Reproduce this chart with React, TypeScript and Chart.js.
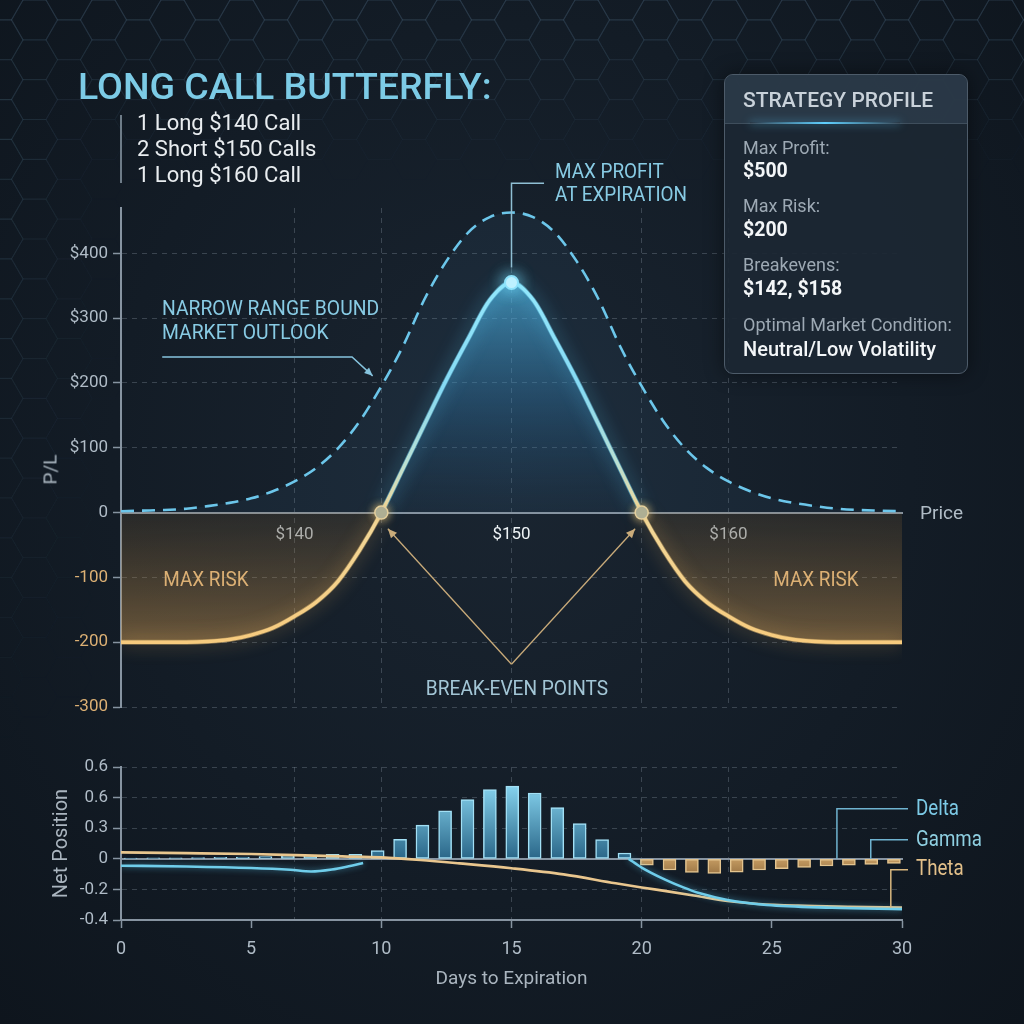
import React, { useEffect, useRef } from 'react';
import { Chart, registerables } from 'chart.js';

Chart.register(...registerables);

const FONT = 'Roboto, "Noto Sans", "DejaVu Sans", sans-serif';
const GRID = 'rgba(150,163,176,0.30)';
const AXIS = '#8794a1';
const TICK = '#b0bcc7';
const WARM = '#dcb074';
const COOL_TEXT = '#88cbe4';

// Underlying price ($) and the two P/L curves of the position
const prices = [132, 133, 134, 135, 136, 137, 138, 139, 140, 141, 142, 143, 144, 145, 146, 147, 148, 149, 150, 151, 152, 153, 154, 155, 156, 157, 158, 159, 160, 161, 162, 163, 164, 165, 166, 167, 168];
const expiryPL = [-200, -200, -200, -200, -199, -196, -189, -178, -160, -138, -106, -58, 0, 68, 137, 205, 268, 328, 355, 328, 268, 205, 137, 68, 0, -58, -106, -138, -160, -178, -189, -196, -199, -200, -200, -200, -200];
const todayPL = [2, 3, 4, 6, 10, 15, 22, 33, 48, 69, 99, 141, 195, 257, 330, 388, 432, 456, 463, 456, 432, 388, 330, 257, 195, 141, 99, 69, 48, 33, 22, 15, 10, 6, 4, 3, 2];
const breakevenPrices = [144, 156];
const peakPrice = 150;
const priceGridLines = [140, 144, 150, 156, 160];
const priceTickLabels = [140, 150, 160];
const plTicks = [-300, -200, -100, 0, 100, 200, 300, 400];
const plMin = -300;
const plMax = 470;

const legs = ['1 Long $140 Call', '2 Short $150 Calls', '1 Long $160 Call'];
const profileRows: [string, string][] = [
  ['Max Profit:', '$500'],
  ['Max Risk:', '$200'],
  ['Breakevens:', '$142, $158'],
  ['Optimal Market Condition:', 'Neutral/Low Volatility'],
];

// Greeks across days to expiration
const barDays = [0.37, 1.24, 2.1, 2.96, 3.82, 4.68, 5.55, 6.41, 7.27, 8.13, 9.0, 9.86, 10.72, 11.58, 12.45, 13.31, 14.17, 15.03, 15.89, 16.76, 17.62, 18.48, 19.34, 20.2, 21.07, 21.93, 22.79, 23.65, 24.51, 25.38, 26.24, 27.1, 27.96, 28.82, 29.69];
const gammaBars = [0.005, 0.006, 0.007, 0.008, 0.01, 0.012, 0.015, 0.022, 0.025, 0.03, 0.03, 0.053, 0.127, 0.22, 0.313, 0.387, 0.453, 0.475, 0.43, 0.335, 0.231, 0.125, 0.038, -0.042, -0.073, -0.089, -0.096, -0.087, -0.073, -0.065, -0.056, -0.047, -0.042, -0.036, -0.031];
const deltaDays = [0, 2.5, 5, 6.5, 7.3, 8.1, 8.8, 9.3, 14, 19.5, 20, 20.9, 21.6, 22.2, 23.3, 24.8, 27.3, 30];
const deltaValues = [-0.045, -0.05, -0.06, -0.072, -0.083, -0.07, -0.047, -0.028, null, 0, -0.057, -0.136, -0.187, -0.224, -0.269, -0.302, -0.32, -0.329];
const thetaDays = [0, 2.5, 5, 6.7, 8.5, 10, 11.5, 13, 15, 17, 19, 20, 21, 22, 23.3, 24.5, 26, 28, 30];
const thetaValues = [0.042, 0.037, 0.031, 0.024, 0.016, 0.009, -0.008, -0.03, -0.062, -0.102, -0.16, -0.187, -0.213, -0.24, -0.276, -0.295, -0.306, -0.313, -0.318];
const dayTicks = [0, 5, 10, 15, 20, 25, 30];
const netTicks = [-0.4, -0.2, 0, 0.2, 0.4, 0.6];
const netTickLabels = ['-0.4', '-0.2', '0', '0.3', '0.6', '0.6'];
const greekNames = ['Delta', 'Gamma', 'Theta'];

// Soft halo behind datasets that carry a `glow: [color, blur]` entry
const glowPlugin = {
  id: 'glow',
  beforeDatasetDraw(chart: any, args: any) {
    const ds = chart.data.datasets[args.index];
    if (!ds.glow) return;
    chart.ctx.save();
    chart.ctx.shadowColor = ds.glow[0];
    chart.ctx.shadowBlur = ds.glow[1];
  },
  afterDatasetDraw(chart: any, args: any) {
    const ds = chart.data.datasets[args.index];
    if (!ds.glow) return;
    chart.ctx.restore();
  },
};

function arrowHead(ctx: CanvasRenderingContext2D, x0: number, y0: number, x1: number, y1: number, size: number) {
  const a = Math.atan2(y1 - y0, x1 - x0);
  ctx.beginPath();
  ctx.moveTo(x1, y1);
  ctx.lineTo(x1 - size * Math.cos(a - 0.42), y1 - size * Math.sin(a - 0.42));
  ctx.lineTo(x1 - size * Math.cos(a + 0.42), y1 - size * Math.sin(a + 0.42));
  ctx.closePath();
  ctx.fill();
}

// Callout leaders on the payoff diagram
const payoffNotes = {
  id: 'payoffNotes',
  afterDatasetsDraw(chart: any) {
    const { ctx, scales } = chart;
    const X = (v: number) => scales.x.getPixelForValue(v);
    const Y = (v: number) => scales.y.getPixelForValue(v);
    ctx.save();
    ctx.lineWidth = 1.5;
    // max profit leader
    ctx.strokeStyle = '#8fbfd4';
    ctx.beginPath();
    ctx.moveTo(X(peakPrice), Y(378));
    ctx.lineTo(X(peakPrice), Y(508));
    ctx.lineTo(X(peakPrice + 1.5), Y(508));
    ctx.stroke();
    // range-bound outlook leader
    ctx.strokeStyle = '#86c4de';
    ctx.fillStyle = '#86c4de';
    const o = [[133.9, 240], [142.65, 240], [143.6, 211]];
    ctx.beginPath();
    ctx.moveTo(X(o[0][0]), Y(o[0][1]));
    ctx.lineTo(X(o[1][0]), Y(o[1][1]));
    ctx.lineTo(X(o[2][0]), Y(o[2][1]));
    ctx.stroke();
    arrowHead(ctx, X(o[1][0]), Y(o[1][1]), X(o[2][0]), Y(o[2][1]), 9);
    // break-even arrows
    ctx.strokeStyle = '#c9ab7a';
    ctx.fillStyle = '#c9ab7a';
    ctx.lineWidth = 1.3;
    const apex = [peakPrice, -234];
    [[breakevenPrices[0] + 0.3, -25], [breakevenPrices[1] - 0.3, -25]].forEach(([px, pv]) => {
      ctx.beginPath();
      ctx.moveTo(X(apex[0]), Y(apex[1]));
      ctx.lineTo(X(px), Y(pv));
      ctx.stroke();
      arrowHead(ctx, X(apex[0]), Y(apex[1]), X(px), Y(pv), 10);
    });
    ctx.restore();
  },
};

// Leader lines for the greek labels
const greekNotes = {
  id: 'greekNotes',
  afterDatasetsDraw(chart: any) {
    const { ctx, chartArea, scales } = chart;
    const X = (v: number) => scales.x.getPixelForValue(v);
    const Y = (v: number) => scales.y.getPixelForValue(v);
    const end = chartArea.right + 6;
    const leaders: [number, number, number, string][] = [
      [27.5, 0, 0.327, '#6fb3d0'],
      [28.8, 0, 0.124, '#6fb3d0'],
      [29.57, -0.318, -0.072, '#d9b77f'],
    ];
    ctx.save();
    ctx.lineWidth = 1.5;
    leaders.forEach(([d, from, to, col]) => {
      ctx.strokeStyle = col;
      ctx.beginPath();
      ctx.moveTo(X(d), Y(from));
      ctx.lineTo(X(d), Y(to));
      ctx.lineTo(end, Y(to));
      ctx.stroke();
    });
    ctx.restore();
  },
};

function PayoffChart() {
  const ref = useRef<HTMLCanvasElement>(null);
  useEffect(() => {
    const pts = (ys: number[]) => prices.map((p, i) => ({ x: p, y: ys[i] }));
    const valueAt = (p: number) => expiryPL[prices.indexOf(p)];
    const vGrad = (c: any, top: number, bottom: number, stops: [number, string][]) => {
      const { chart } = c;
      if (!chart.chartArea) return stops[0][1];
      const y = chart.scales.y;
      const g = chart.ctx.createLinearGradient(0, y.getPixelForValue(top), 0, y.getPixelForValue(bottom));
      stops.forEach(([t, col]) => g.addColorStop(t, col));
      return g;
    };
    const clear = 'rgba(0,0,0,0)';
    const chart = new Chart(ref.current!, {
      type: 'line',
      data: {
        datasets: [
          {
            label: 'Today',
            data: pts(todayPL),
            borderColor: '#6cc6ea',
            borderWidth: 2.6,
            borderDash: [13, 8],
            pointRadius: 0,
            cubicInterpolationMode: 'monotone',
            fill: { target: 'origin', above: 'rgba(80,140,185,0.08)', below: clear },
            order: 9,
          },
          {
            label: 'Profit zone',
            data: pts(expiryPL.map((v) => Math.max(v, 0))),
            borderWidth: 0,
            pointRadius: 0,
            cubicInterpolationMode: 'monotone',
            fill: 'origin',
            backgroundColor: (c: any) => vGrad(c, 355, 0, [[0, 'rgba(85,195,245,0.62)'], [0.55, 'rgba(50,130,185,0.30)'], [1, 'rgba(30,80,120,0.04)']]),
            order: 8,
          },
          {
            label: 'Risk zone',
            data: pts(expiryPL.map((v) => Math.min(v, 0))),
            borderWidth: 0,
            pointRadius: 0,
            cubicInterpolationMode: 'monotone',
            fill: 'origin',
            backgroundColor: (c: any) => vGrad(c, 0, -210, [[0, 'rgba(150,110,55,0.16)'], [1, 'rgba(222,165,88,0.45)']]),
            order: 8,
          },
          {
            label: 'Cool halo',
            data: pts(expiryPL),
            borderWidth: 5,
            borderColor: clear,
            pointRadius: 0,
            cubicInterpolationMode: 'monotone',
            segment: { borderColor: (s: any) => (s.p0.parsed.y >= 40 || s.p1.parsed.y >= 40 ? 'rgba(120,220,250,0.5)' : clear) },
            glow: ['rgba(90,200,245,0.95)', 18],
            order: 7,
          } as any,
          {
            label: 'Warm halo',
            data: pts(expiryPL),
            borderWidth: 5,
            borderColor: clear,
            pointRadius: 0,
            cubicInterpolationMode: 'monotone',
            segment: { borderColor: (s: any) => (s.p0.parsed.y <= 0 && s.p1.parsed.y <= 0 ? 'rgba(245,200,120,0.45)' : clear) },
            glow: ['rgba(245,190,100,0.9)', 18],
            order: 7,
          } as any,
          {
            label: 'At expiration',
            data: pts(expiryPL),
            borderWidth: 3.5,
            borderColor: (c: any) => vGrad(c, 360, -200, [[0, '#95e8fc'], [0.3, '#86daf4'], [0.5, '#b8e0d4'], [0.64, '#f1d89a'], [1, '#f7cb7e']]),
            pointRadius: 0,
            cubicInterpolationMode: 'monotone',
            order: 3,
          },
          {
            type: 'scatter',
            label: 'Max profit',
            data: [{ x: peakPrice, y: valueAt(peakPrice) }],
            pointRadius: 6.5,
            pointBackgroundColor: '#c9f4ff',
            pointBorderColor: '#8fe3fb',
            pointBorderWidth: 2,
            glow: ['rgba(120,225,255,1)', 16],
            order: 1,
          } as any,
          {
            type: 'scatter',
            label: 'Break-even',
            data: breakevenPrices.map((p) => ({ x: p, y: valueAt(p) })),
            pointRadius: 6.5,
            pointBackgroundColor: '#a4ab98',
            pointBorderColor: '#e4cf9c',
            pointBorderWidth: 1.5,
            glow: ['rgba(240,200,120,0.8)', 8],
            order: 1,
          } as any,
        ],
      },
      options: {
        animation: false,
        responsive: false,
        events: [],
        layout: { padding: { top: 208, right: 122, bottom: 23, left: 0 } },
        plugins: { legend: { display: false }, tooltip: { enabled: false } },
        scales: {
          x: {
            type: 'linear',
            axis: 'x',
            min: prices[0],
            max: prices[prices.length - 1],
            position: { y: 0 },
            offset: false,
            afterBuildTicks: (s: any) => {
              s.ticks = priceGridLines.map((v) => ({ value: v }));
            },
            afterFit: (s: any) => {
              s.height = 0;
            },
            grid: { color: GRID, lineWidth: 1, drawTicks: false, offset: false },
            border: { display: true, color: AXIS, width: 2, dash: [5, 5] },
            ticks: {
              padding: 12,
              maxRotation: 0,
              autoSkip: false,
              font: { family: FONT, size: 17 },
              color: (c: any) => (c.tick && c.tick.value === peakPrice ? '#eef3f6' : TICK),
              callback: (v: any) => (priceTickLabels.includes(v) ? '$' + v : ''),
            },
          } as any,
          y: {
            type: 'linear',
            min: plMin,
            max: plMax,
            afterBuildTicks: (s: any) => {
              s.ticks = plTicks.map((v) => ({ value: v }));
            },
            afterFit: (s: any) => {
              s.width = 121;
            },
            grid: {
              color: (c: any) => (c.tick && c.tick.value === 0 ? 'rgba(0,0,0,0)' : GRID),
              drawTicks: true,
              tickLength: 8,
              tickColor: AXIS,
              tickWidth: 1.5,
            },
            border: { display: true, color: AXIS, width: 2, dash: [5, 5] },
            ticks: {
              padding: 5,
              font: { family: FONT, size: 17 },
              color: (c: any) => (c.tick && c.tick.value < 0 ? WARM : TICK),
              callback: (v: any) => (v > 0 ? '$' + v : String(v)),
            },
          } as any,
        },
      },
      plugins: [glowPlugin, payoffNotes],
    } as any);
    return () => chart.destroy();
  }, []);
  return <canvas ref={ref} width={1024} height={730} style={{ position: 'absolute', left: 0, top: 0, width: 1024, height: 730 }} />;
}

function GreeksChart() {
  const ref = useRef<HTMLCanvasElement>(null);
  useEffect(() => {
    const bars = barDays.map((d, i) => ({ x: d, y: gammaBars[i] }));
    const delta = deltaDays.map((d, i) => ({ x: d, y: deltaValues[i] }));
    const theta = thetaDays.map((d, i) => ({ x: d, y: thetaValues[i] }));
    const barFill = (c: any) => {
      const { chart } = c;
      const v = c.raw ? c.raw.y : 0;
      if (!chart.chartArea) return v >= 0 ? '#5fb8dc' : '#b8935c';
      const y = chart.scales.y;
      if (v >= 0) {
        const g = chart.ctx.createLinearGradient(0, y.getPixelForValue(0.5), 0, y.getPixelForValue(0));
        g.addColorStop(0, '#8ad8f3');
        g.addColorStop(1, '#2a6688');
        return g;
      }
      const g = chart.ctx.createLinearGradient(0, y.getPixelForValue(0), 0, y.getPixelForValue(-0.1));
      g.addColorStop(0, '#c49b62');
      g.addColorStop(1, '#9c7645');
      return g;
    };
    const chart = new Chart(ref.current!, {
      type: 'line',
      data: {
        datasets: [
          {
            type: 'line',
            label: greekNames[0],
            data: delta,
            xAxisID: 'x',
            yAxisID: 'y',
            borderColor: '#6fcdea',
            borderWidth: 2.6,
            pointRadius: 0,
            spanGaps: false,
            cubicInterpolationMode: 'monotone',
            glow: ['rgba(90,200,240,0.6)', 6],
            order: 0,
          } as any,
          {
            type: 'line',
            label: greekNames[2],
            data: theta,
            xAxisID: 'x',
            yAxisID: 'y',
            borderColor: '#e9c68e',
            borderWidth: 2.6,
            pointRadius: 0,
            cubicInterpolationMode: 'monotone',
            order: 1,
          },
          {
            type: 'bar',
            label: greekNames[1],
            data: bars,
            xAxisID: 'x',
            yAxisID: 'y',
            backgroundColor: barFill,
            borderColor: (c: any) => (c.raw && c.raw.y < 0 ? '#e3c48f' : '#a2e0f5'),
            borderWidth: 1.5,
            borderSkipped: false,
            barThickness: 13,
            order: 2,
          } as any,
        ],
      },
      options: {
        animation: false,
        responsive: false,
        events: [],
        layout: { padding: { top: 27, right: 122, bottom: 0, left: 0 } },
        plugins: { legend: { display: false }, tooltip: { enabled: false } },
        scales: {
          x: {
            type: 'linear',
            axis: 'x',
            position: 'bottom',
            min: 0,
            max: 30,
            offset: false,
            afterBuildTicks: (s: any) => {
              s.ticks = dayTicks.map((v) => ({ value: v }));
            },
            afterFit: (s: any) => {
              s.height = 104;
            },
            grid: { drawOnChartArea: false, drawTicks: true, tickLength: 8, tickColor: AXIS, tickWidth: 1.5, offset: false },
            border: { display: true, color: AXIS, width: 2 },
            ticks: { color: TICK, font: { family: FONT, size: 18 }, padding: 11, maxRotation: 0, autoSkip: false },
            title: { display: true, text: 'Days to Expiration', color: '#aab5bf', font: { family: FONT, size: 19 }, padding: { top: 0, bottom: 33 } },
          } as any,
          xp: {
            type: 'linear',
            axis: 'x',
            position: 'top',
            min: prices[0],
            max: prices[prices.length - 1],
            offset: false,
            afterBuildTicks: (s: any) => {
              s.ticks = priceGridLines.map((v) => ({ value: v }));
            },
            afterFit: (s: any) => {
              s.height = 0;
            },
            grid: { color: GRID, drawTicks: false, offset: false },
            border: { display: false, dash: [5, 5] },
            ticks: { display: false },
          } as any,
          xz: {
            type: 'linear',
            axis: 'x',
            position: { y: 0 },
            min: 0,
            max: 30,
            offset: false,
            afterFit: (s: any) => {
              s.height = 0;
            },
            grid: { display: true, drawOnChartArea: false, drawTicks: false, offset: false },
            border: { display: true, color: AXIS, width: 2 },
            ticks: { display: false },
          } as any,
          y: {
            type: 'linear',
            min: netTicks[0],
            max: netTicks[netTicks.length - 1],
            afterBuildTicks: (s: any) => {
              s.ticks = netTicks.map((v) => ({ value: v }));
            },
            afterFit: (s: any) => {
              s.width = 121;
            },
            grid: {
              color: (c: any) => (c.tick && c.tick.value === 0 ? 'rgba(0,0,0,0)' : GRID),
              drawTicks: true,
              tickLength: 8,
              tickColor: AXIS,
              tickWidth: 1.5,
            },
            border: { display: true, color: AXIS, width: 2, dash: [5, 5] },
            ticks: {
              color: TICK,
              font: { family: FONT, size: 17 },
              padding: 5,
              callback: (_v: any, i: number) => netTickLabels[i],
            },
            title: { display: true, text: 'Net Position', color: '#aab5bf', font: { family: FONT, size: 20 }, padding: { top: 50, bottom: 0 } },
          } as any,
        },
      },
      plugins: [glowPlugin, greekNotes],
    } as any);
    return () => chart.destroy();
  }, []);
  return <canvas ref={ref} width={1024} height={284} style={{ position: 'absolute', left: 0, top: 740, width: 1024, height: 284 }} />;
}

// Faint honeycomb texture along the top and left edges
function Honeycomb() {
  const ref = useRef<HTMLCanvasElement>(null);
  useEffect(() => {
    const c = ref.current!;
    const ctx = c.getContext('2d')!;
    ctx.clearRect(0, 0, 1024, 1024);
    const r = 23;
    const w = 1.5 * r;
    const h = Math.sqrt(3) * r;
    ctx.lineWidth = 1.2;
    for (let col = -1; col * w < 1024 + r; col++) {
      for (let row = -1; row * h < 1024 + h; row++) {
        const cx = col * w;
        const cy = row * h + (col % 2 ? h / 2 : 0);
        const top = Math.max(0, 1 - cy / 170);
        const side = Math.max(0, 1 - cx / 115) * Math.max(0, 1 - cy / 780);
        const a = 0.12 * Math.max(top, side);
        if (a < 0.006) continue;
        ctx.strokeStyle = `rgba(120,165,195,${a.toFixed(3)})`;
        ctx.beginPath();
        for (let k = 0; k < 6; k++) {
          const ang = (Math.PI / 3) * k;
          const px = cx + r * Math.cos(ang);
          const py = cy + r * Math.sin(ang);
          if (k === 0) ctx.moveTo(px, py);
          else ctx.lineTo(px, py);
        }
        ctx.closePath();
        ctx.stroke();
      }
    }
  }, []);
  return <canvas ref={ref} width={1024} height={1024} style={{ position: 'absolute', left: 0, top: 0 }} />;
}

type LabelProps = {
  x: number;
  cy: number;
  size: number;
  color: string;
  weight?: number;
  align?: 'left' | 'center';
  sx?: number;
  rotate?: number;
  children: React.ReactNode;
};

function Label({ x, cy, size, color, weight = 400, align = 'left', sx = 1, rotate = 0, children }: LabelProps) {
  const shift = align === 'center' ? 'translateX(-50%) ' : '';
  const rot = rotate ? ` rotate(${rotate}deg)` : '';
  return (
    <div
      style={{
        position: 'absolute',
        left: x,
        top: cy - size * 0.49,
        fontSize: size,
        lineHeight: 1,
        color,
        fontWeight: weight,
        fontFamily: FONT,
        whiteSpace: 'nowrap',
        transform: `${shift}scaleX(${sx})${rot}`,
        transformOrigin: align === 'center' ? 'center' : 'left',
      }}
    >
      {children}
    </div>
  );
}

function ProfileCard() {
  const rowCenters = [[148, 171], [206, 230], [265, 289], [325, 349]];
  return (
    <>
      <div
        style={{
          position: 'absolute',
          left: 724,
          top: 74,
          width: 244,
          height: 300,
          boxSizing: 'border-box',
          borderRadius: 9,
          border: '1.5px solid #4d5b69',
          background: 'rgba(28,39,51,0.92)',
          boxShadow: '0 0 20px rgba(0,0,0,0.45)',
          overflow: 'hidden',
        }}
      >
        <div style={{ position: 'relative', height: 48, background: 'rgba(55,71,87,0.55)', borderBottom: '1px solid #3f4e5c' }}>
          <div
            style={{
              position: 'absolute',
              left: 25,
              width: 150,
              bottom: -1,
              height: 2,
              background: 'linear-gradient(90deg, rgba(95,208,255,0), #5fd0ff, rgba(95,208,255,0))',
              boxShadow: '0 0 8px rgba(95,208,255,0.7)',
            }}
          />
        </div>
      </div>
      <Label x={743} cy={100} size={21} color="#c9d2da" weight={500}>
        STRATEGY PROFILE
      </Label>
      {profileRows.map(([k, v], i) => (
        <React.Fragment key={k}>
          <Label x={743} cy={rowCenters[i][0]} size={18} color="#9da9b4">
            {k}
          </Label>
          <Label x={743} cy={rowCenters[i][1]} size={i === 3 ? 20 : 19.5} color="#f3f6f8" weight={i === 3 ? 500 : 700}>
            {v}
          </Label>
        </React.Fragment>
      ))}
    </>
  );
}

export default function App() {
  const legCenters = [123, 149, 175];
  const greekColors = ['#7ccae6', '#8fd0e2', '#e3c08a'];
  const greekCenters = [808, 839, 868];
  return (
    <div
      style={{
        position: 'absolute',
        left: 0,
        top: 0,
        width: 1024,
        height: 1024,
        overflow: 'hidden',
        background: 'radial-gradient(ellipse at 50% 45%, #1a2531 0%, #131c26 55%, #0e151d 100%)',
        fontFamily: FONT,
      }}
    >
      <Honeycomb />
      <PayoffChart />
      <GreeksChart />

      <Label x={78} cy={86} size={37.5} color="#7ccbe6" weight={500}>
        LONG CALL BUTTERFLY:
      </Label>
      <div style={{ position: 'absolute', left: 120, top: 115, width: 2, height: 68, background: '#6e7c88' }} />
      {legs.map((t, i) => (
        <Label key={t} x={137} cy={legCenters[i]} size={22} color="#e9edf0">
          {t}
        </Label>
      ))}

      <Label x={555} cy={171} size={21} color={COOL_TEXT} sx={0.9}>
        MAX PROFIT
      </Label>
      <Label x={555} cy={194} size={21} color={COOL_TEXT} sx={0.9}>
        AT EXPIRATION
      </Label>
      <Label x={162} cy={308} size={21} color={COOL_TEXT} sx={0.92}>
        NARROW RANGE BOUND
      </Label>
      <Label x={162} cy={332} size={21} color={COOL_TEXT} sx={0.92}>
        MARKET OUTLOOK
      </Label>
      <Label x={206} cy={579} size={21} color={WARM} sx={0.9} align="center">
        MAX RISK
      </Label>
      <Label x={816} cy={579} size={21} color={WARM} sx={0.9} align="center">
        MAX RISK
      </Label>
      <Label x={517} cy={688} size={21} color="#a3c6d6" sx={0.91} align="center">
        BREAK-EVEN POINTS
      </Label>
      <Label x={920} cy={512} size={19} color="#b0bcc6">
        Price
      </Label>
      <Label x={50} cy={469} size={19} color="#a9b5bf" align="center" rotate={-90}>
        P/L
      </Label>

      {greekNames.map((n, i) => (
        <Label key={n} x={916} cy={greekCenters[i]} size={22} color={greekColors[i]} sx={0.85}>
          {n}
        </Label>
      ))}

      <ProfileCard />
    </div>
  );
}
